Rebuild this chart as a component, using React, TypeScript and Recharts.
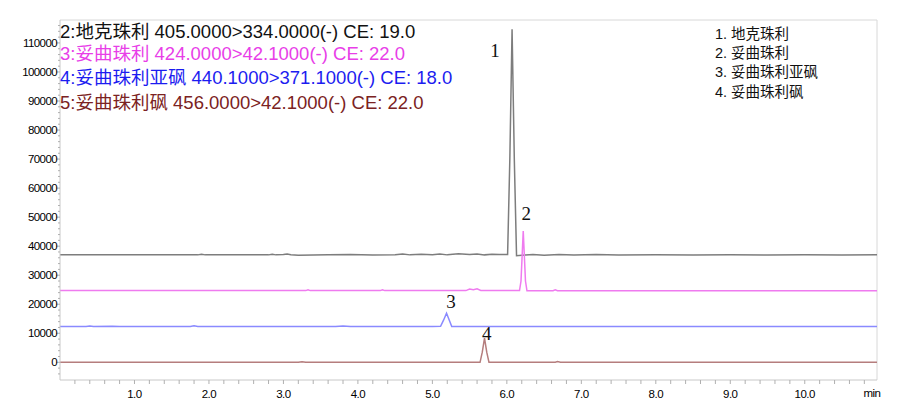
import { LineChart, Line, XAxis, YAxis, ReferenceLine, ReferenceDot } from 'recharts'

// retention time (min) / intensity pairs
const diclazurilTrace = [
  [0, 37000], [1.85, 37000], [1.9, 37250], [1.95, 37000], [2.8, 37000], [2.85, 37200],
  [2.9, 37000], [3.0, 37100], [3.05, 37300], [3.1, 37050], [3.2, 36900], [3.6, 37000],
  [3.9, 37100], [4.2, 36950], [4.5, 37050], [4.6, 37300], [4.7, 37000], [4.85, 37250],
  [5.0, 37050], [5.1, 37300], [5.2, 37000], [5.35, 37350], [5.5, 37100], [5.6, 37300],
  [5.7, 37000], [5.8, 37250], [5.9, 37100], [6.01, 37150], [6.04, 70000], [6.07, 114700],
  [6.1, 70000], [6.13, 36700], [6.2, 36900], [6.35, 37100], [6.5, 36900], [6.7, 37100],
  [6.9, 36950], [7.2, 37100], [7.5, 36950], [8.0, 37050], [8.5, 36950], [9.0, 37050],
  [9.5, 36950], [10.0, 37050], [10.5, 36950], [10.97, 37000],
]
const toltrazurilTrace = [
  [0, 24700], [3.3, 24700], [3.33, 25000], [3.36, 24700], [4.3, 24700], [4.33, 25000],
  [4.36, 24700], [5.45, 24700], [5.5, 25200], [5.55, 25000], [5.6, 25300], [5.65, 24750],
  [6.17, 24700], [6.19, 28000], [6.22, 45200], [6.25, 28000], [6.27, 24600], [6.62, 24650],
  [6.65, 24950], [6.68, 24650], [10.97, 24650],
]
const sulfoxideTrace = [
  [0, 12300], [0.35, 12300], [0.4, 12500], [0.45, 12300], [0.7, 12450], [0.8, 12300],
  [1.75, 12300], [1.8, 12550], [1.85, 12300], [3.7, 12300], [3.8, 12500], [3.9, 12300],
  [5.0, 12300], [5.11, 12400], [5.15, 14500], [5.19, 16900], [5.23, 14300], [5.26, 12300],
  [10.97, 12300],
]
const sulfoneTrace = [
  [0, 0], [3.2, 0], [3.25, 200], [3.3, 0], [5.64, 0], [5.67, 3500], [5.7, 8300],
  [5.73, 3500], [5.76, 0], [6.65, 0], [6.68, 250], [6.72, 0], [10.97, 0],
]

const peakNames = ['1', '2', '3', '4']
const peakLabelTimes = [5.84, 6.26, 5.25, 5.73]
const peakLabelValues = [107400, 51200, 21100, 10100]

const channelTitles = [
  '2:地克珠利 405.0000>334.0000(-) CE: 19.0',
  '3:妥曲珠利 424.0000>42.1000(-) CE: 22.0',
  '4:妥曲珠利亚砜 440.1000>371.1000(-) CE: 18.0',
  '5:妥曲珠利砜 456.0000>42.1000(-) CE: 22.0',
]
const legendItems = ['1. 地克珠利', '2. 妥曲珠利', '3. 妥曲珠利亚砜', '4. 妥曲珠利砜']

const X_MAX = 10.97
const Y_MIN = -6100
const Y_MAX = 117900

const toPoints = (rows: number[][]) => rows.map(([t, v]) => ({ t, v }))

const series = [
  { key: 'diclazuril', data: toPoints(diclazurilTrace), color: '#7d7d7d' },
  { key: 'toltrazuril', data: toPoints(toltrazurilTrace), color: '#ef7bef' },
  { key: 'sulfoxide', data: toPoints(sulfoxideTrace), color: '#8a8aff' },
  { key: 'sulfone', data: toPoints(sulfoneTrace), color: '#b57d7d' },
]

const titleColors = ['#111111', '#e83ee8', '#1c1cf0', '#7b2222']

// minor ticks every 0.2 min, every 2000 counts
const xTicks = Array.from({ length: 54 }, (_, i) => Math.round((i + 1) * 2) / 10)
const yTicks = Array.from({ length: 61 }, (_, i) => -4000 + i * 2000)

const tickFont = '"Liberation Sans", Arial, sans-serif'

function XTick({ x, y, payload }: any) {
  const v = payload.value as number
  const major = Math.abs(v - Math.round(v)) < 1e-6
  return (
    <g>
      <line x1={x} x2={x} y1={y} y2={y + 4} stroke="#b0b0b0" />
      {major && (
        <text x={x} y={y + 18} textAnchor="middle" fontSize={11.5} letterSpacing={-0.5}
          fontFamily={tickFont} fill="#000">
          {v.toFixed(1)}
        </text>
      )}
    </g>
  )
}

function YTick({ x, y, payload }: any) {
  const v = payload.value as number
  const major = v % 10000 === 0
  return (
    <g>
      <line x1={x - (major ? 4 : 2)} x2={x} y1={y} y2={y} stroke="#b0b0b0" />
      {major && v >= 0 && (
        <text x={x - 3} y={y + 4} textAnchor="end" fontSize={11.5} letterSpacing={-0.6}
          fontFamily={tickFont} fill="#000">
          {v}
        </text>
      )}
    </g>
  )
}

export default function App() {
  return (
    <div style={{ position: 'absolute', left: 0, top: 0, width: 906, height: 414, background: '#fff' }}>
      <LineChart width={906} height={414} margin={{ top: 20, right: 29, bottom: 0, left: 0 }}>
        <XAxis
          type="number"
          dataKey="t"
          domain={[0, X_MAX]}
          allowDataOverflow
          ticks={xTicks}
          interval={0}
          height={34}
          tickSize={0}
          tickMargin={0}
          tickLine={false}
          axisLine={{ stroke: '#c8c8c8' }}
          tick={<XTick />}
        />
        <YAxis
          type="number"
          dataKey="v"
          domain={[Y_MIN, Y_MAX]}
          allowDataOverflow
          ticks={yTicks}
          interval={0}
          width={60}
          tickSize={0}
          tickMargin={0}
          tickLine={false}
          axisLine={{ stroke: '#c8c8c8' }}
          tick={<YTick />}
        />
        <ReferenceLine y={Y_MAX} stroke="#d8d8d8" />
        <ReferenceLine x={X_MAX} stroke="#d8d8d8" />
        {series.map((s) => (
          <Line
            key={s.key}
            data={s.data}
            dataKey="v"
            type="linear"
            stroke={s.color}
            strokeWidth={1.5}
            dot={false}
            activeDot={false}
            isAnimationActive={false}
          />
        ))}
        {peakNames.map((name, i) => (
          <ReferenceDot
            key={name}
            x={peakLabelTimes[i]}
            y={peakLabelValues[i]}
            r={0}
            stroke="none"
            label={{
              value: name,
              position: 'center',
              fontSize: 19,
              fontFamily: '"Liberation Serif", "Times New Roman", serif',
              fill: '#111',
            }}
          />
        ))}
      </LineChart>
      <svg width={906} height={414} style={{ position: 'absolute', left: 0, top: 0, pointerEvents: 'none' }}>
        {channelTitles.map((t, i) => (
          <text key={t} x={60} y={[37.5, 60, 84, 109][i]} fontSize={18.5}
            fontFamily='"Liberation Sans", "Noto Sans CJK SC", sans-serif' fill={titleColors[i]}>
            {t}
          </text>
        ))}
        {legendItems.map((t, i) => (
          <text key={t} x={715} y={[39, 57.5, 77, 96.5][i]} fontSize={14.5}
            fontFamily='"Liberation Sans", "Noto Sans CJK SC", sans-serif' fill="#111">
            {t}
          </text>
        ))}
        <text x={872} y={397} textAnchor="middle" fontSize={11.5} letterSpacing={-0.5}
          fontFamily={tickFont} fill="#000">
          min
        </text>
      </svg>
    </div>
  )
}
